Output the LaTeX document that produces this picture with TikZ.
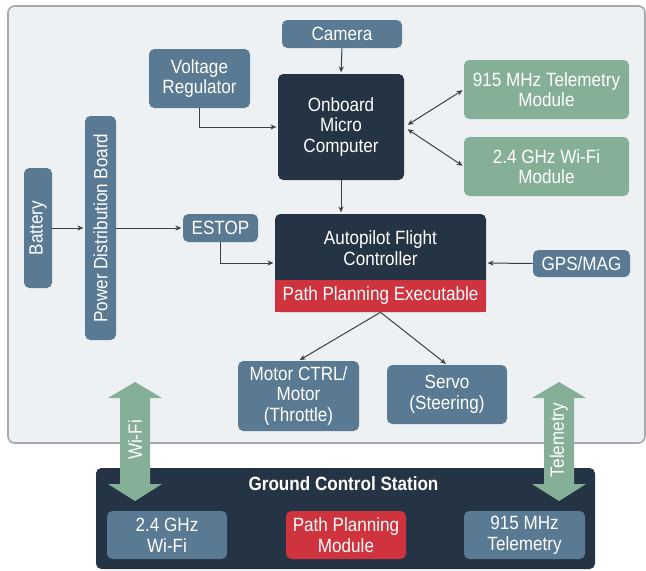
\documentclass[tikz,border=0pt]{standalone}
\usepackage{fontspec}
\setmainfont{Liberation Sans}[FakeStretch=0.89]
\usetikzlibrary{arrows.meta}
\definecolor{panelbg}{HTML}{EEF1F4}
\definecolor{panelline}{HTML}{A3A9AE}
\definecolor{steel}{HTML}{5A7A93}
\definecolor{navy}{HTML}{243444}
\definecolor{redbox}{HTML}{CF333E}
\definecolor{greenbox}{HTML}{86AF98}
\definecolor{linecol}{HTML}{3A3F45}
\tikzset{
  txt/.style={font=\fontsize{14.4pt}{15.5pt}\selectfont, text=white, align=center, inner sep=0pt},
  box/.style={txt, fill=steel, rounded corners=4pt},
  darkbox/.style={txt, fill=navy, rounded corners=4pt},
  greenmod/.style={txt, fill=greenbox, rounded corners=4pt},
  redmod/.style={txt, fill=redbox, rounded corners=4pt},
  conn/.style={draw=linecol, line width=0.75pt, -{Stealth[length=4.5pt,width=3.8pt]}, shorten >=1pt},
  bigarrow/.style={fill=greenbox},
}
\begin{document}
\begin{tikzpicture}[x=0.75pt,y=-0.75pt]
\useasboundingbox (0,0) rectangle (646,571);
% panel
\draw[fill=panelbg, draw=panelline, line width=1.2pt, rounded corners=5pt] (8,6) rectangle (645,443);

% nodes
\node[box, minimum width=90pt, minimum height=21pt] (cam) at (342,34) {Camera};
\node[box, minimum width=75.75pt, minimum height=44.25pt] (vr) at (199.5,78.5) {Voltage\\Regulator};
\node[darkbox, minimum width=94.5pt, minimum height=79.5pt] (omc) at (341,127) {Onboard\\Micro\\Computer};
\node[greenmod, minimum width=123.75pt, minimum height=44.25pt] (tel) at (546.5,89.5) {915 MHz Telemetry\\Module};
\node[greenmod, minimum width=123.75pt, minimum height=44.25pt] (wifi) at (546.5,166.5) {2.4 GHz Wi-Fi\\Module};
\node[darkbox, minimum width=158.25pt, minimum height=73.5pt] (ap) at (380.5,263) {};
\node[txt] at (380.5,248) {Autopilot Flight\\Controller};
\node[txt, fill=redbox, minimum width=158.25pt, minimum height=24pt] (ppe) at (380.5,296) {Path Planning Executable};
\node[box, minimum width=72.75pt, minimum height=20.25pt] (gps) at (581.5,263.5) {GPS/MAG};
\node[box, minimum width=21pt, minimum height=90pt] (bat) at (38,228) {};
\node[txt, rotate=90] at (bat) {Battery};
\node[box, minimum width=23.25pt, minimum height=168pt] (pdb) at (100.5,228) {};
\node[txt, rotate=90] at (pdb) {Power Distribution Board};
\node[box, minimum width=56.25pt, minimum height=21pt] (estop) at (220.5,228) {ESTOP};
\node[box, minimum width=90.75pt, minimum height=52.5pt] (motor) at (298.5,396) {Motor CTRL/\\Motor\\(Throttle)};
\node[box, minimum width=90pt, minimum height=44.25pt] (servo) at (447,394.5) {Servo\\(Steering)};

% ground control station
\node[darkbox, minimum width=374.25pt, minimum height=75.75pt] (gcs) at (345.5,518.5) {};
\node[txt, font=\fontsize{14.4pt}{15.5pt}\selectfont\bfseries] at (343.5,484) {Ground Control Station};
\node[box, minimum width=90pt, minimum height=36pt] (gwifi) at (167,535) {2.4 GHz\\Wi-Fi};
\node[redmod, minimum width=90pt, minimum height=36pt] (ppm) at (346,535) {Path Planning\\Module};
\node[box, minimum width=90.75pt, minimum height=36pt] (gtel) at (524.5,535) {915 MHz\\Telemetry};

% connectors
\draw[conn] (cam.south) -- (omc.north);
\draw[conn] (vr.south) |- (omc.west);
\draw[conn] (omc) -- (ap.north -| omc);
\draw[conn, {Stealth[length=4.5pt,width=3.8pt]}-{Stealth[length=4.5pt,width=3.8pt]}, shorten <=3pt] (omc.east) -- (tel.west);
\draw[conn, {Stealth[length=4.5pt,width=3.8pt]}-{Stealth[length=4.5pt,width=3.8pt]}, shorten <=3pt] (omc.east) -- (wifi.west);
\draw[conn] (gps.west) -- (ap.east);
\draw[conn] (bat.east) -- (pdb.west);
\draw[conn] (pdb.east |- estop.west) -- (estop.west);
\draw[conn] (estop.south) |- (ap.west);
\draw[conn] (ppe.south) -- (motor.north);
\draw[conn] (ppe.south) -- (servo.north);

% wireless double arrows
\fill[bigarrow] (135,382) -- (162,398) -- (150,398) -- (150,484) -- (162,484) -- (135,501) -- (108,484) -- (120,484) -- (120,398) -- (108,398) -- cycle;
\node[txt, rotate=90] at (135,440) {Wi-Fi};
\fill[bigarrow] (559,382) -- (586,398) -- (574,398) -- (574,484) -- (586,484) -- (559,501) -- (532,484) -- (544,484) -- (544,398) -- (532,398) -- cycle;
\node[txt, rotate=90] at (559,440) {Telemetry};
\end{tikzpicture}
\end{document}
